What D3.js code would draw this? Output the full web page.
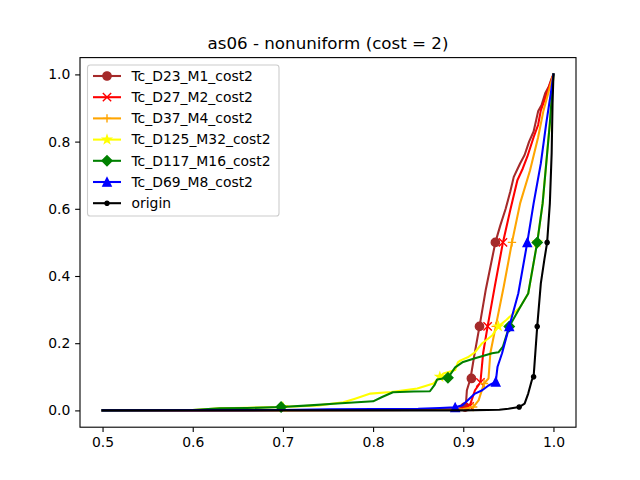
<!DOCTYPE html>
<html>
<head>
<meta charset="utf-8">
<script src="https://cdn.jsdelivr.net/npm/d3@7/dist/d3.min.js"></script>
<style>
  html, body { margin: 0; padding: 0; background: #fff; }
  svg { display: block; }
  text { font-family: "DejaVu Sans", sans-serif; }
</style>
</head>
<body>
<svg id="chart" width="640" height="480"></svg>
<script>
// ---------------- data ----------------
const title = "as06 - nonuniform (cost = 2)";
const seriesNames = ["Tc_D23_M1_cost2", "Tc_D27_M2_cost2", "Tc_D37_M4_cost2",
  "Tc_D125_M32_cost2", "Tc_D117_M16_cost2", "Tc_D69_M8_cost2", "origin"];
const seriesColors = ["#a52a2a", "#ff0000", "#ffa500", "#ffff00", "#008000", "#0000ff", "#000000"];
const seriesMarkers = ["circle", "x", "plus", "star", "diamond", "triangle", "point"];

const xTicks = [0.5, 0.6, 0.7, 0.8, 0.9, 1.0];
const yTicks = [0.0, 0.2, 0.4, 0.6, 0.8, 1.0];

const d23X = [0.5, 0.85, 0.89, 0.900, 0.903, 0.904, 0.908, 0.912, 0.918, 0.925, 0.9356, 0.941, 0.947, 0.952, 0.956, 0.963, 0.968, 0.973, 0.978, 0.983, 0.987, 0.991, 0.995, 0.998, 1.0];
const d23Y = [0, 0.001, 0.003, 0.008, 0.02, 0.06, 0.095, 0.16, 0.25, 0.36, 0.5, 0.55, 0.6, 0.65, 0.695, 0.735, 0.76, 0.8, 0.83, 0.89, 0.91, 0.945, 0.965, 0.988, 1.0];
const d27X = [0.5, 0.86, 0.895, 0.905, 0.908, 0.913, 0.919, 0.922, 0.927, 0.935, 0.944, 0.952, 0.96, 0.966, 0.971, 0.978, 0.983, 0.986, 0.991, 0.995, 1.0];
const d27Y = [0, 0.001, 0.004, 0.01, 0.02, 0.06, 0.083, 0.17, 0.25, 0.37, 0.5, 0.595, 0.685, 0.72, 0.755, 0.813, 0.85, 0.893, 0.93, 0.962, 1.0];
const d37X = [0.5, 0.87, 0.9, 0.911, 0.917, 0.923, 0.928, 0.930, 0.936, 0.945, 0.954, 0.963, 0.974, 0.983, 0.989, 0.996, 1.0];
const d37Y = [0, 0.001, 0.004, 0.01, 0.03, 0.08, 0.095, 0.17, 0.25, 0.37, 0.5, 0.616, 0.714, 0.813, 0.893, 0.962, 1.0];
const d125X = [0.5, 0.6, 0.63, 0.66, 0.7, 0.74, 0.767, 0.78, 0.797, 0.82, 0.849, 0.867, 0.874, 0.878, 0.891, 0.894, 0.897, 0.905, 0.913, 0.921, 0.932, 0.939, 0.948, 0.956, 0.963, 0.972, 0.982, 0.988, 0.992, 0.996, 1.0];
const d125Y = [0, 0.001, 0.006, 0.008, 0.01, 0.015, 0.024, 0.035, 0.05, 0.055, 0.065, 0.08, 0.1, 0.11, 0.12, 0.143, 0.149, 0.158, 0.173, 0.2, 0.223, 0.25, 0.27, 0.29, 0.307, 0.348, 0.5, 0.616, 0.735, 0.854, 1.0];
const d117X = [0.5, 0.6, 0.63, 0.66, 0.698, 0.73, 0.756, 0.8, 0.81, 0.822, 0.845, 0.863, 0.868, 0.871, 0.883, 0.891, 0.899, 0.913, 0.932, 0.939, 0.944, 0.951, 0.963, 0.972, 0.982, 0.988, 0.992, 0.996, 1.0];
const d117Y = [0, 0.001, 0.006, 0.007, 0.01, 0.015, 0.02, 0.027, 0.04, 0.054, 0.056, 0.057, 0.075, 0.092, 0.097, 0.128, 0.143, 0.155, 0.17, 0.173, 0.19, 0.25, 0.307, 0.348, 0.5, 0.616, 0.735, 0.854, 1.0];
const d69X = [0.5, 0.7, 0.75, 0.8, 0.85, 0.874, 0.891, 0.899, 0.905, 0.913, 0.921, 0.928, 0.936, 0.938, 0.943, 0.951, 0.961, 0.971, 0.978, 0.986, 0.992, 0.997, 1.0];
const d69Y = [0, 0.001, 0.003, 0.004, 0.005, 0.007, 0.009, 0.015, 0.03, 0.05, 0.06, 0.074, 0.085, 0.13, 0.17, 0.25, 0.348, 0.5, 0.616, 0.735, 0.854, 0.943, 1.0];
const originX = [0.5, 0.9, 0.94, 0.95, 0.962, 0.968, 0.972, 0.976, 0.978, 0.982, 0.986, 0.99, 0.993, 0.996, 0.998, 0.999, 1.0];
const originY = [0, 0, 0.002, 0.005, 0.01, 0.02, 0.05, 0.09, 0.1, 0.25, 0.378, 0.45, 0.5, 0.616, 0.765, 0.914, 1.0];

// marker positions (points on each curve)
const d23MX = [0.902, 0.909, 0.918, 0.9356];  const d23MY = [0.01, 0.095, 0.25, 0.5];
const d27MX = [0.907, 0.919, 0.927, 0.944];   const d27MY = [0.012, 0.083, 0.25, 0.5];
const d37MX = [0.911, 0.923, 0.936, 0.954];   const d37MY = [0.01, 0.08, 0.25, 0.5];
const d125MX = [0.7, 0.874, 0.939, 0.982];    const d125MY = [0.01, 0.1, 0.25, 0.5];
const d117MX = [0.698, 0.883, 0.951, 0.982];  const d117MY = [0.01, 0.097, 0.25, 0.5];
const d69MX = [0.891, 0.936, 0.951, 0.971];   const d69MY = [0.009, 0.085, 0.25, 0.5];
const originMX = [0.962, 0.978, 0.982, 0.993]; const originMY = [0.01, 0.1, 0.25, 0.5];

const allX = [d23X, d27X, d37X, d125X, d117X, d69X, originX];
const allY = [d23Y, d27Y, d37Y, d125Y, d117Y, d69Y, originY];
const allMX = [d23MX, d27MX, d37MX, d125MX, d117MX, d69MX, originMX];
const allMY = [d23MY, d27MY, d37MY, d125MY, d117MY, d69MY, originMY];

// ---------------- layout ----------------
const W = 640, H = 480;
const L = 80, R = 576, T = 57.6, B = 427.2;
const svg = d3.select("#chart");

const x = d3.scaleLinear().domain([0.475, 1.025]).range([L, R]);
const y = d3.scaleLinear().domain([-0.05, 1.05]).range([B, T]);

svg.append("rect").attr("x", 0).attr("y", 0).attr("width", W).attr("height", H).attr("fill", "#fff");

svg.append("clipPath").attr("id", "clip").append("rect")
  .attr("x", L).attr("y", T).attr("width", R - L).attr("height", B - T);

// title
svg.append("text").attr("x", (L + R) / 2).attr("y", 49)
  .attr("text-anchor", "middle").attr("font-size", "16.7px").attr("fill", "#000")
  .text(title);

// axes
const xAxis = d3.axisBottom(x).tickValues(xTicks).tickFormat(d3.format(".1f"))
  .tickSizeInner(4.86).tickSizeOuter(0).tickPadding(4.86);
const yAxis = d3.axisLeft(y).tickValues(yTicks).tickFormat(d3.format(".1f"))
  .tickSizeInner(4.86).tickSizeOuter(0).tickPadding(4.86);

const gx = svg.append("g").attr("transform", `translate(0,${B})`).call(xAxis);
const gy = svg.append("g").attr("transform", `translate(${L},0)`).call(yAxis);
[gx, gy].forEach(g => {
  g.select(".domain").remove();
  g.selectAll(".tick line").attr("stroke", "#000").attr("stroke-width", 1.1);
  g.selectAll(".tick text").attr("font-size", "13.9px").attr("fill", "#000")
    .attr("font-family", "DejaVu Sans, sans-serif");
});
gx.selectAll(".tick text").attr("dy", "0.75em");

// markers
const ms = 8.33;
function markerPath(type) {
  const r = ms / 2;
  switch (type) {
    case "circle": return d3.symbol(d3.symbolCircle, Math.PI * r * r)();
    case "point": return d3.symbol(d3.symbolCircle, Math.PI * (r * 0.5) * (r * 0.5))();
    case "diamond": {
      const d = r * Math.SQRT2 * 0.85;
      return `M0,${-d}L${d},0L0,${d}L${-d},0Z`;
    }
    case "triangle": return `M0,${-r}L${r},${r}L${-r},${r}Z`;
    case "x": return `M${-r},${-r}L${r},${r}M${-r},${r}L${r},${-r}`;
    case "plus": return `M${-r},0L${r},0M0,${-r}L0,${r}`;
    case "star": {
      let p = "";
      for (let i = 0; i < 10; i++) {
        const rr = i % 2 === 0 ? r : r * 0.381966;
        const a = -Math.PI / 2 + i * Math.PI / 5;
        p += (i === 0 ? "M" : "L") + (rr * Math.cos(a)).toFixed(3) + "," + (rr * Math.sin(a)).toFixed(3);
      }
      return p + "Z";
    }
  }
}
function drawMarker(g, type, color, cx, cy) {
  const open = (type === "x" || type === "plus");
  g.append("path").attr("d", markerPath(type))
    .attr("transform", `translate(${cx},${cy})`)
    .attr("fill", open ? "none" : color)
    .attr("stroke", color).attr("stroke-width", open ? 1.39 : 1.39)
    .attr("stroke-linejoin", "miter");
}

const plot = svg.append("g").attr("clip-path", "url(#clip)");
const line = d3.line().x(d => x(d[0])).y(d => y(d[1]));

seriesNames.forEach((name, i) => {
  const g = plot.append("g");
  const pts = allX[i].map((v, k) => [v, allY[i][k]]);
  g.append("path").datum(pts).attr("d", line)
    .attr("fill", "none").attr("stroke", seriesColors[i]).attr("stroke-width", 2.08)
    .attr("stroke-linejoin", "round").attr("stroke-linecap", "square");
  allMX[i].forEach((mx, k) => drawMarker(g, seriesMarkers[i], seriesColors[i], x(mx), y(allMY[i][k])));
});

// spines
svg.append("rect").attr("x", L).attr("y", T).attr("width", R - L).attr("height", B - T)
  .attr("fill", "none").attr("stroke", "#000").attr("stroke-width", 1.1);

// legend
const lg = svg.append("g");
const lx = 87.5, ly = 65, lw = 191.5, lh = 151;
lg.append("rect").attr("x", lx).attr("y", ly).attr("width", lw).attr("height", lh)
  .attr("rx", 2.8).attr("ry", 2.8)
  .attr("fill", "rgba(255,255,255,0.8)").attr("stroke", "#cccccc").attr("stroke-width", 1.1);
seriesNames.forEach((name, i) => {
  const cy = 76 + i * 21.2;
  lg.append("line").attr("x1", 93).attr("x2", 121).attr("y1", cy).attr("y2", cy)
    .attr("stroke", seriesColors[i]).attr("stroke-width", 2.08);
  drawMarker(lg, seriesMarkers[i], seriesColors[i], 107, cy);
  lg.append("text").attr("x", 131.5).attr("y", cy).attr("dy", "0.35em")
    .attr("font-size", "13.9px").attr("fill", "#000").text(name);
});
</script>
</body>
</html>
